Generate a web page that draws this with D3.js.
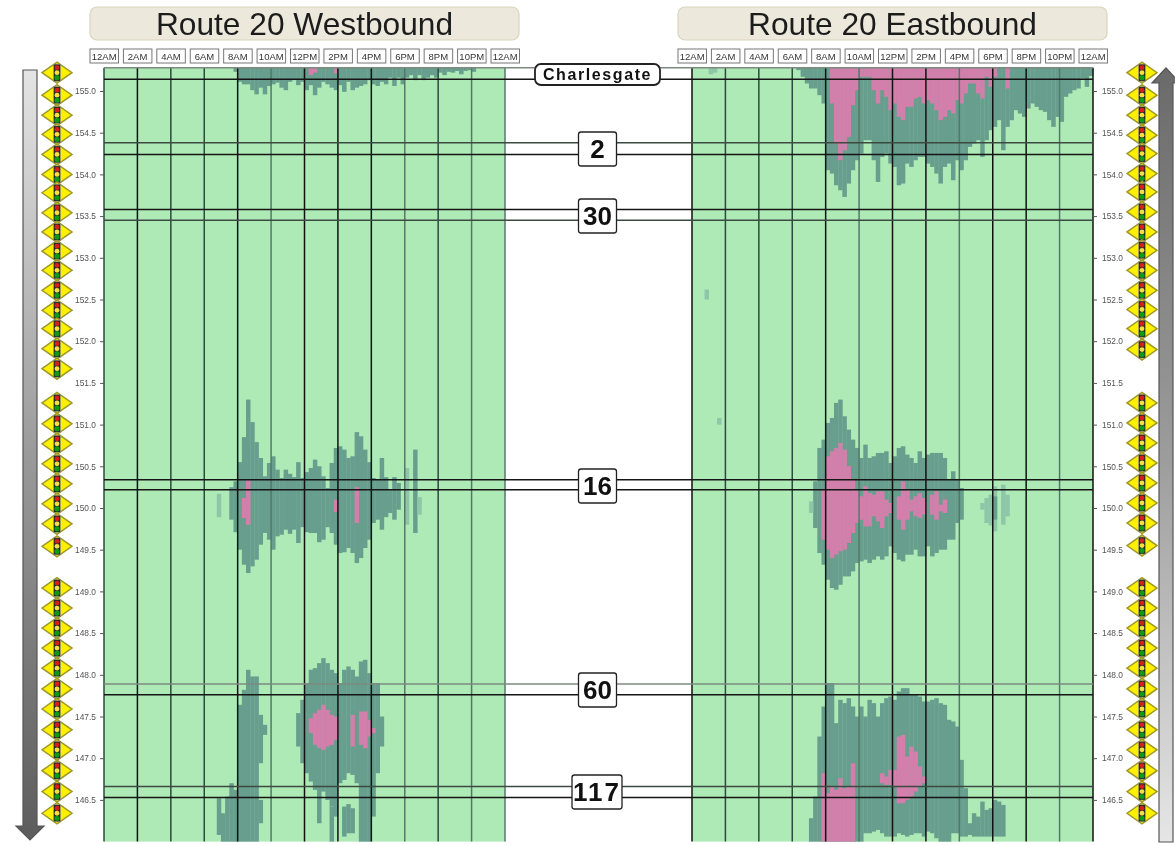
<!DOCTYPE html>
<html><head><meta charset="utf-8">
<script src="https://cdn.jsdelivr.net/npm/d3@7"></script>
<style>
html,body{margin:0;padding:0;background:#fff;overflow:hidden}
svg{display:block;filter:blur(0.65px)}
text{font-family:"Liberation Sans",Arial,sans-serif}
</style></head><body><svg id="c" width="1175" height="845"></svg>
<script>
// ---------- categories / labels ----------
const titles = ["Route 20 Westbound", "Route 20 Eastbound"];
const timeHours = [0,2,4,6,8,10,12,14,16,18,20,22,24];
const timeLabels = ["12AM","2AM","4AM","6AM","8AM","10AM","12PM","2PM","4PM","6PM","8PM","10PM","12AM"];
const mileTicks = [155,154.5,154,153.5,153,152.5,152,151.5,151,150.5,150,149.5,149,148.5,148,147.5,147,146.5];
const interchangeNames = ["Charlesgate","2","30","16","60","117"];
const interchangeMiles = [[155.28,155.14],[154.38,154.24],[153.58,153.45],[150.34,150.22],[147.89,147.76],[146.66,146.53]];
const ruleShade = [2,0,1,0,0,1,0,0,2,0,1,0];
const signalMilesWest = [155.22,154.95,154.71,154.48,154.24,154.00,153.78,153.54,153.31,153.08,152.85,152.61,152.37,152.15,151.91,151.67,
  151.26,151.01,150.77,150.53,150.29,150.05,149.81,149.54,
  149.04,148.80,148.56,148.32,148.08,147.83,147.59,147.34,147.10,146.85,146.60,146.34];
const signalMilesEast = [155.22,154.95,154.71,154.47,154.25,154.01,153.79,153.55,153.31,153.09,152.85,152.61,152.38,152.15,151.90,
  151.26,151.02,150.78,150.54,150.30,150.06,149.82,149.55,
  149.04,148.80,148.56,148.32,148.08,147.83,147.59,147.34,147.10,146.85,146.60,146.34];
const westLineShade = [1,0,1,1,0,2,0,0,0,2,1,2,2];
const eastLineShade = [0,1,1,1,0,2,0,0,2,0,0,2,0];

// ---------- westbound congestion: start hour, upper mile, lower mile per quarter-hour column ----------
const wTopDarkStart = 7.75;
const wTopDarkLow = [155.23,155.11,155.08,155.08,155.01,154.96,155.04,154.96,155.06,155.08,155.10,155.04,155.01,155.11,155.13,155.07,155.11,155.01,155.07,154.95,155.04,155.11,155.08,155.04,155.01,155.07,154.99,155.11,155.01,155.04,155.06,155.08,155.13,155.08,155.06,155.11,155.08,155.16,155.06,155.16,155.08,155.16,155.19,155.13,155.19,155.13,155.16,155.19,155.16,155.22,155.19,155.23,155.22,155.24,155.20,155.24,155.25,155.23];
const wTopPinkStart = 12.25;
const wTopPinkLow = [155.19,155.22,null,null,null,null,155.21];

const wMidStart = 7.5;
const wMidUp = [150.25,150.32,150.55,150.85,151.30,151.03,150.79,150.60,150.38,150.54,150.62,150.46,150.36,150.46,150.41,150.37,150.55,150.36,150.43,150.48,150.58,150.50,150.38,150.24,150.54,150.72,150.74,150.70,150.60,150.62,150.91,150.86,150.70,150.55,150.36,150.34,150.60,150.37,150.22,150.37,150.30,null,null,null,150.70];
const wMidLow = [149.86,149.71,149.50,149.32,149.22,149.30,149.38,149.56,149.70,149.62,149.50,149.66,149.68,149.74,149.69,149.74,149.58,149.77,149.71,149.70,149.70,149.59,149.62,149.77,149.70,149.56,149.46,149.47,149.52,149.46,149.34,149.40,149.52,149.62,149.82,149.86,149.74,149.89,149.94,149.86,149.98,null,null,null,149.70];
const wMidFaintStart = 18, wMidFaintUp = [150.48,null,null,150.13], wMidFaintLow = [149.80,null,null,149.92];
const wMidLoneStart = 6.75, wMidLoneUp = [150.17], wMidLoneLow = [149.89];
const wMidPinkStart = 8.25, wMidPinkUp = [150.12,150.34], wMidPinkLow = [149.88,149.80];
const wMidPink2Start = 13.75, wMidPink2Up = [150.10], wMidPink2Low = [149.95];
const wMidPink3Start = 15, wMidPink3Up = [150.25], wMidPink3Low = [149.82];

const wLowAStart = 6.75;
const wLowAUp = [146.52,146.34,146.54,146.70,146.62,147.64,147.82,148.06,147.98,147.98,147.52,147.40];
const wLowALow = [146.08,146.00,146.00,146.00,146.00,146.00,146.00,146.00,146.00,146.00,146.94,147.28];
const wLowA2Start = 9.25, wLowA2Up = [146.50], wLowA2Low = [146.22];
const wLowBStart = 11.5;
const wLowBUp = [147.54,147.70,147.90,148.06,148.08,148.14,148.20,148.14,148.06,148.02,147.90,148.06,148.10,148.06,147.98,148.16,148.18,148.02,147.90,147.90,147.50];
const wLowBLow = [147.14,146.94,146.82,146.72,146.62,146.54,146.60,146.50,146.42,146.30,146.70,146.74,146.82,146.80,146.70,146.00,146.00,146.00,146.30,146.82,147.14];
const wLowB2Start = 12.75;
const wLowB2Up = [146.55,null,null,146.42,null,null,146.42,146.45,146.40];
const wLowB2Low = [146.22,null,null,146.00,null,null,146.06,146.10,146.10];
const wLowPinkStart = 12.25;
const wLowPinkUp = [147.48,147.54,147.58,147.64,147.58,147.52,147.50];
const wLowPinkLow = [147.30,147.16,147.12,147.10,147.14,147.16,147.22];
const wLowPink2Start = 14.75, wLowPink2Up = [147.52], wLowPink2Low = [147.14];
const wLowPink3Start = 15.25;
const wLowPink3Up = [147.56,147.56,147.46,147.36];
const wLowPink3Low = [147.16,147.12,147.26,147.30];

// ---------- eastbound congestion ----------
const eTopDarkStart = 6.25;
const eTopDarkLow = [155.25,155.17,155.09,155.03,155.03,154.95,154.85,154.05,154.01,153.87,153.81,153.73,153.89,154.05,154.17,154.25,154.41,154.41,154.17,153.91,154.21,154.25,154.13,154.09,153.87,153.89,154.13,154.09,154.17,154.21,154.21,154.13,154.09,154.01,153.89,154.09,154.13,153.93,154.17,154.05,154.17,154.33,154.37,154.41,154.21,154.41,154.53,154.57,154.65,154.29,154.57,154.65,154.77,154.73,154.69,154.79,154.85,154.81,154.77,154.75,154.65,154.57,154.69,154.63,154.93,154.97,155.01,155.03,155.15,155.05,155.18];
const eTopPinkStart = 8.25;
const eTopPinkLow = [154.85,154.37,154.17,154.29,154.45,154.83,155.01,155.17,155.17,155.17,155.01,154.85,155.01,154.93,154.77,154.85,154.69,154.65,154.81,154.81,154.91,154.93,154.85,154.89,154.85,154.77,154.65,154.69,154.77,154.73,154.89,154.85,154.97,155.09,155.09,154.97,154.91,155.17,155.05,155.17];
const eTopPink2Start = 18.75, eTopPink2Low = [155.03];
const eTopFringeStart = 1, eTopFringeLow = [155.20,155.22];
const eSpeck1Start = 0.75, eSpeck1Up = [152.62], eSpeck1Low = [152.50];
const eSpeck2Start = 1.5, eSpeck2Up = [151.08], eSpeck2Low = [151.00];

const eMidStart = 7.25;
const eMidUp = [150.32,150.72,150.82,151.02,151.08,151.26,151.30,151.10,150.94,150.82,150.72,150.60,150.76,150.60,150.62,150.66,150.66,150.68,150.54,150.62,150.72,150.74,150.64,150.60,150.54,150.68,150.60,150.64,150.66,150.66,150.66,150.60,150.34,150.44,150.34,150.24];
const eMidLow = [149.76,149.46,149.32,149.14,149.04,149.02,149.08,149.18,149.18,149.24,149.34,149.36,149.38,149.34,149.38,149.42,149.38,149.42,149.54,149.46,149.38,149.36,149.44,149.44,149.50,149.42,149.42,149.54,149.42,149.46,149.50,149.50,149.62,149.62,149.82,149.86];
const eMidLoneStart = 7, eMidLoneUp = [150.08], eMidLoneLow = [149.94];
const eMidTailStart = 17.25;
const eMidTailUp = [150.06,150.12,150.16,150.26,null,150.28,150.16];
const eMidTailLow = [149.98,149.82,149.79,149.72,null,149.80,149.90];
const eMidCoreStart = 18, eMidCoreUp = [150.14], eMidCoreLow = [149.86];
const eMidPinkStart = 7.75;
const eMidPinkUp = [150.22,150.62,150.68,150.72,150.78,150.70,150.50,150.34,150.22,150.14,150.26,150.18,150.16,150.20,150.20,150.10,150.06,null,150.14,150.32,150.22,150.10,150.14,150.18,150.12,null,150.16,150.20,150.04,150.10];
const eMidPinkLow = [149.62,149.50,149.40,149.44,149.48,149.50,149.58,149.70,149.82,149.86,149.78,149.78,149.90,149.84,149.76,149.90,149.94,null,149.86,149.74,149.86,149.96,149.90,149.88,149.92,null,149.92,149.86,149.96,149.94];

const eLowStart = 7;
const eLowUp = [146.28,146.54,147.26,147.62,147.90,147.90,147.42,147.70,147.66,147.72,147.62,147.50,147.62,147.50,147.70,147.66,147.50,147.66,147.72,147.74,147.70,147.80,147.84,147.84,147.76,147.76,147.74,147.68,147.68,147.70,147.72,147.66,147.64,147.46,147.44,147.38,146.98,146.64];
const eLowLow = [146.00,146.00,146.00,146.00,146.00,146.00,146.00,146.00,146.00,146.00,146.00,146.00,146.00,146.10,146.10,146.12,146.14,146.10,146.06,146.06,146.06,146.10,146.08,146.06,146.08,146.10,146.10,146.06,146.12,146.10,146.04,146.00,146.00,146.00,146.10,146.10,146.06,146.06];
const eLow2Start = 16.5;
const eLow2Up = [146.22,146.34,146.30,146.48,146.38,146.40,146.50,146.48,146.44];
const eLow2Low = [146.08,146.06,146.06,146.06,146.06,146.06,146.06,146.06,146.06];
const eLowPinkStart = 7.75;
const eLowPinkUp = [146.82,146.58,146.66,146.62,146.76,146.64,146.66,146.94];
const eLowPinkLow = [146.00,146.00,146.00,146.00,146.00,146.00,146.00,146.00];
const eLowPink2Start = 11.25;
const eLowPink2Up = [146.82,146.78,146.86,146.86,147.26,147.28,147.02,147.14,147.08,146.90,146.78];
const eLowPink2Low = [146.70,146.68,146.68,146.66,146.46,146.46,146.50,146.54,146.60,146.66,146.70];

// ---------- drawing ----------
const GREEN="#aeeab6", DARK="#679e8d", FAINT="#8ec6a8", PINK="#d27fab", STEP=0.25, TOPMILE=155.28;
const svg = d3.select("#c");
const defs = svg.append("defs");
function grad(id,stops){const g=defs.append("linearGradient").attr("id",id).attr("x1",0).attr("y1",0).attr("x2",0).attr("y2",1);
  stops.forEach(s=>g.append("stop").attr("offset",s[0]).attr("stop-color",s[1]));}
grad("gDown",[[0,"#e4e4e4"],[0.5,"#9a9a9a"],[1,"#5c5c5c"]]);
grad("gUp",[[0,"#6a6a6a"],[0.5,"#9c9c9c"],[1,"#e6e6e6"]]);

const y = d3.scaleLinear().domain([155,146]).range([91,841.6]);
const xW = d3.scaleLinear().domain([0,24]).range([104,505]);
const xE = d3.scaleLinear().domain([0,24]).range([692,1093]);

svg.append("path").attr("d","M23 70H37V826H44L30 840L16 826H23Z").attr("fill","url(#gDown)").attr("stroke","#555").attr("stroke-width",1.2);
svg.append("path").attr("d","M1166 68L1180 83H1173V842H1159V83H1152Z").attr("fill","url(#gUp)").attr("stroke","#555").attr("stroke-width",1.2);

[[90,0],[678,1]].forEach(([bx,i])=>{
  svg.append("rect").attr("x",bx).attr("y",7).attr("width",429).attr("height",33).attr("rx",7).attr("fill","#ece9dc").attr("stroke","#d9d4bb").attr("stroke-width",1.2);
  svg.append("text").attr("x",bx+214.5).attr("y",35).attr("text-anchor","middle").attr("font-size",31.7).attr("fill","#1c1c1c").text(titles[i]);
});

function columns(g,x,start,up,low,color){
  const cells = low.map((l,i)=>({h:start+i*STEP,l,u:up?up[i]:TOPMILE})).filter(d=>d.l!=null&&d.u!=null);
  g.selectAll(null).data(cells).join("rect")
   .attr("x",d=>x(d.h)).attr("width",d=>x(d.h+STEP)-x(d.h)+0.3)
   .attr("y",d=>y(d.u)).attr("height",d=>y(d.l)-y(d.u)).attr("fill",color);
}
function panel(x,shades,layers){
  const g = svg.append("g");
  g.append("rect").attr("x",x(0)).attr("width",x(24)-x(0)).attr("y",y(TOPMILE)).attr("height",y(146)-y(TOPMILE)).attr("fill",GREEN);
  layers.forEach(l=>columns(g,x,l[0],l[1],l[2],l[3]));
  const shade=["#111","#2e4a40","#55786a"];
  g.selectAll(null).data(timeHours).join("line")
   .attr("x1",x).attr("x2",x).attr("y1",y(TOPMILE)).attr("y2",y(146))
   .attr("stroke",(d,i)=>shade[shades[i]]).attr("stroke-width",1.5);
  const lab = svg.append("g");
  timeHours.forEach((h,i)=>{
    lab.append("rect").attr("x",x(h)-14).attr("y",49).attr("width",28.5).attr("height",14).attr("fill","#fff").attr("stroke","#777").attr("stroke-width",1);
    lab.append("text").attr("x",x(h)+0.2).attr("y",60).attr("text-anchor","middle").attr("font-size",9.5).attr("fill","#333").text(timeLabels[i]);
  });
}
panel(xW,westLineShade,[
 [wTopDarkStart,null,wTopDarkLow,DARK],[wTopPinkStart,null,wTopPinkLow,PINK],
 [wMidStart,wMidUp,wMidLow,DARK],[wMidFaintStart,wMidFaintUp,wMidFaintLow,FAINT],[wMidLoneStart,wMidLoneUp,wMidLoneLow,FAINT],
 [wMidPinkStart,wMidPinkUp,wMidPinkLow,PINK],[wMidPink2Start,wMidPink2Up,wMidPink2Low,PINK],[wMidPink3Start,wMidPink3Up,wMidPink3Low,PINK],
 [wLowAStart,wLowAUp,wLowALow,DARK],[wLowA2Start,wLowA2Up,wLowA2Low,DARK],[wLowBStart,wLowBUp,wLowBLow,DARK],[wLowB2Start,wLowB2Up,wLowB2Low,DARK],
 [wLowPinkStart,wLowPinkUp,wLowPinkLow,PINK],[wLowPink2Start,wLowPink2Up,wLowPink2Low,PINK],[wLowPink3Start,wLowPink3Up,wLowPink3Low,PINK]
]);
panel(xE,eastLineShade,[
 [eTopDarkStart,null,eTopDarkLow,DARK],[eTopFringeStart,null,eTopFringeLow,FAINT],[eTopPinkStart,null,eTopPinkLow,PINK],[eTopPink2Start,null,eTopPink2Low,PINK],
 [eSpeck1Start,eSpeck1Up,eSpeck1Low,FAINT],[eSpeck2Start,eSpeck2Up,eSpeck2Low,FAINT],
 [eMidStart,eMidUp,eMidLow,DARK],[eMidLoneStart,eMidLoneUp,eMidLoneLow,FAINT],[eMidTailStart,eMidTailUp,eMidTailLow,FAINT],[eMidCoreStart,eMidCoreUp,eMidCoreLow,DARK],[eMidPinkStart,eMidPinkUp,eMidPinkLow,PINK],
 [eLowStart,eLowUp,eLowLow,DARK],[eLow2Start,eLow2Up,eLow2Low,DARK],[eLowPinkStart,eLowPinkUp,eLowPinkLow,PINK],[eLowPink2Start,eLowPink2Up,eLowPink2Low,PINK]
]);

// interchange rules run across both panels
const rules = interchangeMiles.flat();
const ruleColors = ["#151515","#3c4a42","#7d8a80"];
svg.append("g").selectAll("line").data(rules).join("line")
  .attr("x1",104).attr("x2",1093).attr("y1",y).attr("y2",y)
  .attr("stroke",(d,i)=>ruleColors[ruleShade[i]]).attr("stroke-width",1.5);

// axes
function styleAxis(g){
  g.select(".domain").remove();
  g.selectAll(".tick line").attr("stroke","#555");
  g.selectAll(".tick text").attr("fill","#555").attr("font-size",8.4).attr("font-family","Liberation Sans");
}
svg.append("g").attr("transform","translate(104,0)")
  .call(d3.axisLeft(y).tickValues(mileTicks).tickFormat(d3.format(".1f")).tickSize(4).tickPadding(4)).call(styleAxis);
svg.append("g").attr("transform","translate(1093,0)")
  .call(d3.axisRight(y).tickValues(mileTicks).tickFormat(d3.format(".1f")).tickSize(4).tickPadding(5)).call(styleAxis);

// signals
function signals(cx,miles){
  const s = svg.append("g").selectAll("g").data(miles).join("g").attr("transform",d=>`translate(${cx},${y(d)})`);
  s.append("path").attr("d","M-15 0L0-10.5L15 0L0 10.5Z").attr("fill","#fff000").attr("stroke","#9f9a28").attr("stroke-width",1.5);
  s.append("rect").attr("x",-3.4).attr("y",-8.5).attr("width",6.8).attr("height",17).attr("fill","#2a2a2a").attr("stroke","#999").attr("stroke-width",0.5);
  s.append("circle").attr("cy",-5).attr("r",2.4).attr("fill","#dc1c1c");
  s.append("circle").attr("cy",0).attr("r",2.4).attr("fill","#f4e040");
  s.append("circle").attr("cy",5).attr("r",2.6).attr("fill","#0c9a18");
}
signals(57,signalMilesWest);
signals(1142,signalMilesEast);

// interchange name plates
const plates = [[597.5,125,21,16],[597.5,38,34,26],[597.5,38,34,26],[597.5,38,34,26],[597.5,38,34,26],[597,50,34,26]];
const plateSpacing = [1.6,0,0,0,0,2];
const centers = [74.5,149,216,486,690,792];
interchangeNames.forEach((n,i)=>{
  const [cx,w,h,fs]=plates[i];
  svg.append("rect").attr("x",cx-w/2).attr("y",centers[i]-h/2).attr("width",w).attr("height",h).attr("rx",i?2.5:6)
     .attr("fill","#fff").attr("stroke","#222").attr("stroke-width",i?1.3:1.8);
  svg.append("text").attr("x",cx).attr("y",centers[i]+fs*0.36).attr("text-anchor","middle").attr("font-weight","bold")
     .attr("font-size",fs).attr("letter-spacing",plateSpacing[i]).attr("fill","#111").text(n);
});
</script></body></html>
